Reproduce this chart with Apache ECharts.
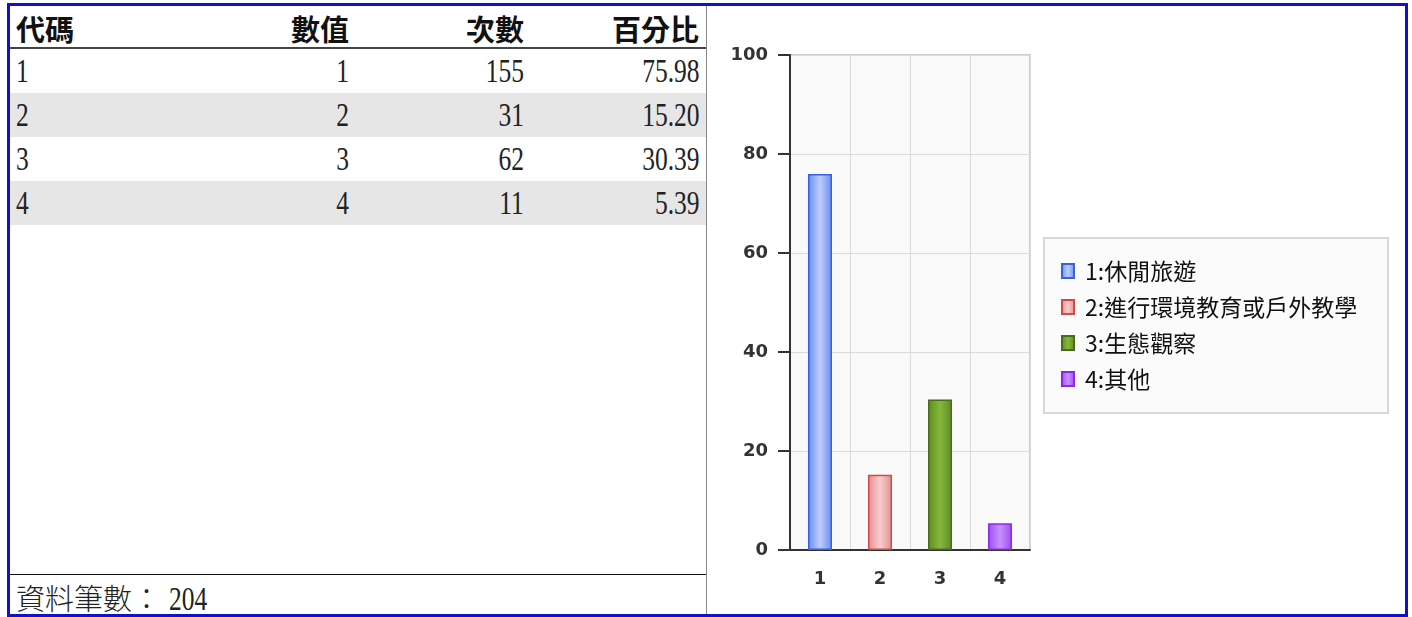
<!DOCTYPE html>
<html>
<head>
<meta charset="utf-8">
<style>
  body { margin: 0; width: 1412px; height: 617px; background: #fff; position: relative; overflow: hidden; }
  #frame { position: absolute; left: 7px; top: 3px; width: 1401px; height: 614px; box-sizing: border-box; border: 3px solid #1010d0; }
  #left { position: absolute; left: 10px; top: 6px; width: 696px; height: 608px; border-right: 1px solid #888; box-sizing: content-box; }
  table { border-collapse: collapse; table-layout: fixed; width: 696px; }
  th { font-family: "Noto Sans CJK TC"; font-weight: 700; font-size: 29px; height: 38px; padding: 3px 7px 0 6px; border-bottom: 2px solid #444; color: #111; vertical-align: middle; line-height: 30px; }
  td { height: 44px; padding: 0 7px 0 6px; vertical-align: middle; overflow: visible; white-space: nowrap; }
  tr.alt td { background: #e6e6e6; }
  .num { display: inline-block; font-family: "Liberation Serif"; font-size: 34px; line-height: 36px; color: #222; transform: scaleX(0.75); }
  .r { text-align: right; }
  .r .num { transform-origin: right center; }
  .l .num { transform-origin: left center; }
  #foot { position: absolute; left: 0; top: 568px; width: 696px; height: 40px; border-top: 1px solid #111; }
  #foot span.cjk { font-family: "Noto Sans CJK TC"; font-weight: 300; font-size: 29px; color: #222; position: absolute; left: 6px; top: 6px; line-height: 32px; }
  #foot span.num { position: absolute; left: 159px; top: 6px; transform-origin: left center; }
  #chart { position: absolute; left: 707px; top: 6px; width: 697px; height: 608px; }
</style>
</head>
<body>
<div id="frame"></div>
<div id="left">
  <table id="tbl">
    <colgroup><col style="width:206px"><col style="width:140px"><col style="width:175px"><col style="width:175px"></colgroup>
    <thead><tr><th style="text-align:left">代碼</th><th class="r">數值</th><th class="r">次數</th><th class="r">百分比</th></tr></thead>
    <tbody id="body"></tbody>
  </table>
  <div id="foot"><span class="cjk">資料筆數：</span><span class="num" id="total"></span></div>
</div>
<div id="chart"></div>
<script src="https://cdn.jsdelivr.net/npm/echarts@6/dist/echarts.min.js"></script>
<script>
var codes = ['1', '2', '3', '4'];
var values = ['1', '2', '3', '4'];
var counts = [155, 31, 62, 11];
var percents = ['75.98', '15.20', '30.39', '5.39'];
var labels = ['1:休閒旅遊', '2:進行環境教育或戶外教學', '3:生態觀察', '4:其他'];
var total = 204;
var yTicks = [0, 20, 40, 60, 80, 100];

// bar colours: [edge, middle, border]
var colors = [
  ['#6a8cf0', '#bccdff', '#3a60e0'],
  ['#e39090', '#f8cccc', '#d04a4a'],
  ['#5c8a22', '#86b83c', '#4a6b1e'],
  ['#9c4cf2', '#c990ff', '#8a2be2']
];

// table
var tb = document.getElementById('body');
for (var i = 0; i < codes.length; i++) {
  var tr = document.createElement('tr');
  if (i % 2 == 1) tr.className = 'alt';
  tr.innerHTML = '<td class="l"><span class="num">' + codes[i] + '</span></td>' +
    '<td class="r"><span class="num">' + values[i] + '</span></td>' +
    '<td class="r"><span class="num">' + counts[i] + '</span></td>' +
    '<td class="r"><span class="num">' + percents[i] + '</span></td>';
  tb.appendChild(tr);
}
document.getElementById('total').textContent = total;

var dom = document.getElementById('chart');
var myChart = echarts.init(dom);

var series = [];
for (var k = 0; k < codes.length; k++) {
  var d = codes.map(function (c, j) { return j == k ? parseFloat(percents[k]) : '-'; });
  series.push({
    name: labels[k],
    type: 'bar',
    stack: 'all',
    barWidth: 24,
    itemStyle: {
      color: new echarts.graphic.LinearGradient(0, 0, 1, 0, [
        { offset: 0, color: colors[k][0] },
        { offset: 0.5, color: colors[k][1] },
        { offset: 1, color: colors[k][0] }
      ]),
      borderColor: colors[k][2],
      borderWidth: 1.5
    },
    data: d
  });
}

var option = {
  animation: false,
  graphic: [{
    type: 'rect',
    left: 336,
    top: 231,
    z: -1,
    shape: { width: 344, height: 175 },
    style: { fill: '#fbfbfb', stroke: '#d8d8d8', lineWidth: 2 }
  }],
  legend: {
    orient: 'vertical',
    left: 349,
    top: 248,
    icon: 'rect',
    itemWidth: 12,
    itemHeight: 14,
    itemGap: 12,
    data: labels,
    textStyle: {
      fontFamily: 'Noto Sans CJK TC',
      fontSize: 23,
      lineHeight: 24,
      color: '#111',
      padding: [0, 0, 0, 6]
    }
  },
  grid: {
    left: 83,
    top: 49,
    width: 240,
    height: 495,
    show: true,
    backgroundColor: '#f9f9f9',
    borderColor: '#cfcfcf',
    borderWidth: 2
  },
  xAxis: {
    type: 'category',
    data: codes,
    axisLine: { lineStyle: { color: '#333', width: 2 } },
    axisTick: { length: 11, lineStyle: { color: '#333', width: 2 } },
    splitLine: { show: true, lineStyle: { color: '#dadada' } },
    axisLabel: { margin: 20, fontSize: 18, fontWeight: 'bold', fontFamily: 'DejaVu Sans', color: '#333' }
  },
  yAxis: {
    type: 'value',
    min: yTicks[0],
    max: yTicks[yTicks.length - 1],
    interval: yTicks[1] - yTicks[0],
    axisLine: { show: true, lineStyle: { color: '#333', width: 2 } },
    axisTick: { show: true, length: 12, lineStyle: { color: '#333', width: 2 } },
    splitLine: { lineStyle: { color: '#dadada' } },
    axisLabel: { margin: 22, fontSize: 18, fontWeight: 'bold', fontFamily: 'DejaVu Sans', color: '#333' }
  },
  series: series
};
myChart.setOption(option);
</script>
</body>
</html>
